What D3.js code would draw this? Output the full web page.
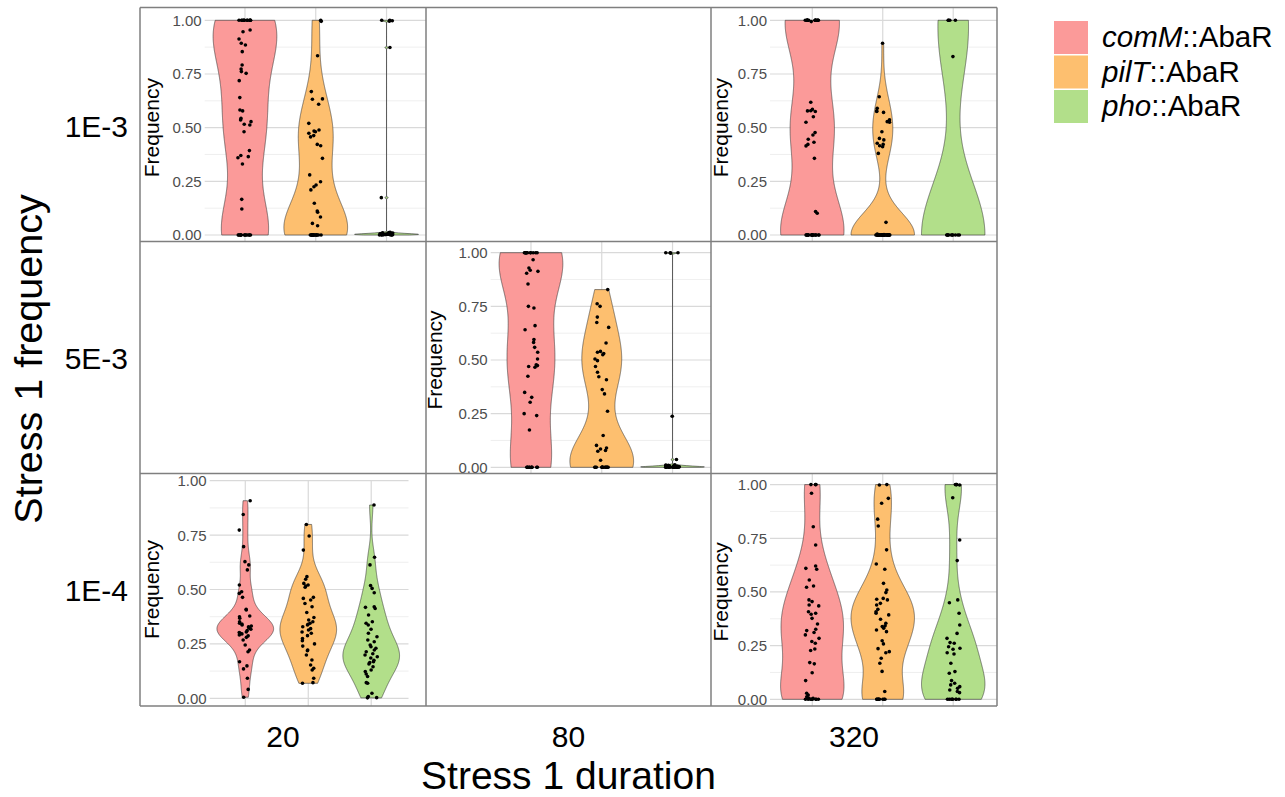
<!DOCTYPE html>
<html>
<head>
<meta charset="utf-8">
<script src="https://cdn.jsdelivr.net/npm/d3@7"></script>
<style>
  body { margin: 0; background: #fff; }
  svg { display: block; }
  text { font-family: "Liberation Sans", Arial, sans-serif; }
</style>
</head>
<body>
<svg id="chart" width="1285" height="797"></svg>
<script>
// categories
const strains = ["comM", "pilT", "pho"];
const strainColors = ["#FB9A99", "#FDBF6F", "#B2DF8A"];
const frequencies = ["1E-3", "5E-3", "1E-4"];
const durations = ["20", "80", "320"];
const majorTicks = [0, 0.25, 0.5, 0.75, 1];
const minorTicks = [0.125, 0.375, 0.625, 0.875];

// frequency values, one array per strain and condition
const f1e3_d20_comM = [1, 1, 1, 1, 1, 1, 1, 1, 1, 1, 1, 1, 0.955, 0.947, 0.913, 0.893, 0.885, 0.854, 0.792, 0.773, 0.761, 0.753, 0.719, 0.640, 0.582, 0.578, 0.543, 0.536, 0.528, 0.516, 0.512, 0.481, 0.393, 0.370, 0.365, 0.360, 0.331, 0.166, 0.121, 0, 0, 0, 0, 0, 0, 0, 0, 0, 0, 0, 0, 0];
const f1e3_d20_pilT = [1, 0.995, 0.835, 0.668, 0.634, 0.632, 0.609, 0.520, 0.489, 0.484, 0.481, 0.474, 0.463, 0.457, 0.422, 0.416, 0.357, 0.280, 0.248, 0.233, 0.225, 0.210, 0.148, 0.112, 0.106, 0.084, 0.054, 0.043, 0, 0, 0, 0, 0, 0, 0, 0, 0, 0, 0, 0, 0, 0, 0, 0];
const f1e3_d20_pho = [1, 1, 0.998, 0.996, 0.873, 0.174, 0, 0, 0, 0, 0.001, 0.001, 0.001, 0.002, 0.002, 0.002, 0.002, 0.003, 0.003, 0.003, 0.003, 0.004, 0.004, 0.004, 0.005, 0.005, 0.005, 0.006, 0.006, 0.007, 0.007, 0.008, 0.009, 0.010, 0.011, 0.012];

const f1e3_d320_comM = [1, 1, 1, 1, 1, 1, 1, 1, 1, 1, 1, 1, 1, 1, 1, 0.994, 0.618, 0.585, 0.579, 0.578, 0.575, 0.551, 0.525, 0.477, 0.466, 0.446, 0.432, 0.422, 0.415, 0.357, 0.109, 0.101, 0, 0, 0, 0, 0, 0, 0, 0, 0, 0, 0, 0, 0, 0, 0, 0, 0];
const f1e3_d320_pilT = [0.893, 0.644, 0.590, 0.578, 0.575, 0.571, 0.536, 0.528, 0.525, 0.481, 0.450, 0.443, 0.427, 0.422, 0.416, 0.411, 0.380, 0.059, 0.004, 0.002, 0, 0, 0, 0, 0, 0, 0, 0, 0, 0, 0, 0, 0, 0, 0, 0, 0, 0, 0, 0, 0, 0, 0, 0, 0, 0, 0, 0, 0, 0, 0, 0, 0, 0, 0, 0];
const f1e3_d320_pho = [1, 1, 1, 1, 0.831, 0, 0, 0, 0, 0, 0, 0, 0, 0, 0];

const f5e3_d80_comM = [1, 1, 1, 1, 1, 1, 1, 1, 1, 1, 1, 1, 0.967, 0.929, 0.918, 0.913, 0.904, 0.854, 0.750, 0.742, 0.660, 0.641, 0.595, 0.582, 0.559, 0.536, 0.505, 0.478, 0.474, 0.470, 0.466, 0.424, 0.349, 0.326, 0.303, 0.250, 0.241, 0.174, 0, 0, 0, 0, 0, 0, 0, 0, 0, 0];
const f5e3_d80_pilT = [0.828, 0.762, 0.750, 0.700, 0.675, 0.652, 0.579, 0.540, 0.536, 0.530, 0.525, 0.505, 0.497, 0.470, 0.443, 0.422, 0.408, 0.362, 0.342, 0.261, 0.148, 0.102, 0.090, 0.085, 0.078, 0.075, 0.033, 0, 0, 0, 0, 0, 0, 0, 0, 0, 0, 0, 0, 0, 0];
const f5e3_d80_pho = [1, 1, 1, 0.998, 0.238, 0.036, 0.012, 0.010, 0.009, 0.008, 0.007, 0.006, 0.006, 0.005, 0.005, 0.004, 0.004, 0.003, 0.003, 0.003, 0.002, 0.002, 0.002, 0.001, 0.001, 0.001, 0, 0, 0, 0, 0, 0, 0, 0, 0, 0];

const f1e4_d20_comM = [0.908, 0.845, 0.773, 0.697, 0.628, 0.613, 0.590, 0.521, 0.490, 0.482, 0.464, 0.409, 0.406, 0.378, 0.375, 0.368, 0.352, 0.345, 0.341, 0.337, 0.332, 0.329, 0.325, 0.322, 0.317, 0.311, 0.305, 0.302, 0.299, 0.296, 0.291, 0.287, 0.280, 0.268, 0.245, 0.222, 0.214, 0.168, 0.149, 0.135, 0.092, 0.041, 0.005];
const f1e4_d20_pilT = [0.799, 0.746, 0.681, 0.559, 0.547, 0.528, 0.521, 0.516, 0.510, 0.464, 0.459, 0.452, 0.436, 0.421, 0.394, 0.371, 0.360, 0.352, 0.345, 0.340, 0.337, 0.329, 0.320, 0.314, 0.305, 0.299, 0.288, 0.275, 0.265, 0.250, 0.240, 0.222, 0.219, 0.199, 0.176, 0.153, 0.138, 0.130, 0.092, 0.072, 0.069];
const f1e4_d20_pho = [0.888, 0.648, 0.613, 0.518, 0.505, 0.485, 0.421, 0.418, 0.413, 0.383, 0.352, 0.345, 0.337, 0.317, 0.299, 0.283, 0.268, 0.260, 0.245, 0.237, 0.230, 0.222, 0.214, 0.205, 0.199, 0.191, 0.185, 0.175, 0.168, 0.164, 0.158, 0.145, 0.130, 0.123, 0.112, 0.100, 0.072, 0.069, 0.023, 0.008, 0.003, 0.002];

const f1e4_d320_comM = [1, 1, 1, 0.960, 0.804, 0.719, 0.621, 0.610, 0.606, 0.556, 0.528, 0.522, 0.463, 0.455, 0.439, 0.435, 0.408, 0.401, 0.396, 0.377, 0.351, 0.326, 0.320, 0.311, 0.300, 0.284, 0.269, 0.261, 0.234, 0.227, 0.171, 0.165, 0.124, 0.087, 0.028, 0.020, 0.012, 0.006, 0.005, 0.003, 0, 0, 0, 0, 0, 0, 0, 0];
const f1e4_d320_pilT = [1, 0.998, 0.936, 0.913, 0.839, 0.807, 0.696, 0.630, 0.606, 0.540, 0.509, 0.497, 0.470, 0.466, 0.463, 0.447, 0.439, 0.419, 0.408, 0.401, 0.393, 0.373, 0.354, 0.342, 0.339, 0.331, 0.323, 0.315, 0.273, 0.258, 0.236, 0.222, 0.217, 0.191, 0.168, 0.130, 0.036, 0, 0, 0, 0, 0, 0, 0, 0, 0];
const f1e4_d320_pho = [1, 1, 1, 0.998, 0.939, 0.742, 0.646, 0.463, 0.450, 0.401, 0.346, 0.307, 0.284, 0.264, 0.261, 0.245, 0.238, 0.233, 0.217, 0.211, 0.168, 0.129, 0.121, 0.087, 0.075, 0.067, 0.059, 0.051, 0.043, 0.036, 0.031, 0, 0, 0, 0, 0, 0, 0, 0];

// which conditions have data (row = frequency, col = duration)
const panels = [
  { row: 0, col: 0, series: [f1e3_d20_comM, f1e3_d20_pilT, f1e3_d20_pho] },
  { row: 0, col: 2, series: [f1e3_d320_comM, f1e3_d320_pilT, f1e3_d320_pho] },
  { row: 1, col: 1, series: [f5e3_d80_comM, f5e3_d80_pilT, f5e3_d80_pho] },
  { row: 2, col: 0, series: [f1e4_d20_comM, f1e4_d20_pilT, f1e4_d20_pho] },
  { row: 2, col: 2, series: [f1e4_d320_comM, f1e4_d320_pilT, f1e4_d320_pho] }
];

// layout of each sub plot (pixel geometry, kept apart from the data)
const cellX = [140, 426, 711, 997];
const cellY = [7.5, 241.5, 473.5, 706];
const panelLayout = {
  "0-0": { xr: [202.5, 429], gridL: 204.7, gridR: 429, gridTop: 7.5, yr: [235, 20.3], labelX: 159 },
  "0-2": { xr: [770, 995.5], gridL: 770, gridR: 997, gridTop: 7.5, yr: [235, 20.3], labelX: 728 },
  "1-1": { xr: [488.5, 715], gridL: 490.7, gridR: 711, gridTop: 241.5, yr: [467.3, 252.7], labelX: 442 },
  "2-0": { xr: [207.5, 409], gridL: 209.7, gridR: 408.5, gridTop: 480, yr: [698.3, 480.7], labelX: 159 },
  "2-2": { xr: [770, 995.5], gridL: 770, gridR: 997, gridTop: 473.5, yr: [699.3, 484.6], labelX: 728 }
};

const svg = d3.select("#chart");

// Silverman's rule as in R's bw.nrd0
function bwNrd0(x) {
  const s = d3.deviation(x);
  const sorted = x.slice().sort(d3.ascending);
  const iqr = d3.quantileSorted(sorted, 0.75) - d3.quantileSorted(sorted, 0.25);
  let lo = Math.min(s, iqr / 1.34);
  if (!lo) lo = s || Math.abs(sorted[0]) || 1;
  return 0.9 * lo * Math.pow(x.length, -0.2);
}

// trimmed gaussian density, scaled to max width (ggplot violin, scale = "width")
function violinDensity(values) {
  const bw = bwNrd0(values);
  const [lo, hi] = d3.extent(values);
  const n = 512;
  const pts = d3.range(n).map(i => {
    const y = lo + (hi - lo) * i / (n - 1);
    let sum = 0;
    for (const v of values) {
      const u = (y - v) / bw;
      sum += Math.exp(-0.5 * u * u);
    }
    return { y, d: sum };
  });
  const mx = d3.max(pts, p => p.d);
  pts.forEach(p => { p.s = p.d / mx; });
  return pts;
}

// fixed horizontal jitter offset in [-0.5, 0.5] for point j of violin i
function jitter(i, j) {
  const h = Math.sin(j * 12.9898 + i * 78.233 + 1.7) * 43758.5453;
  return h - Math.floor(h) - 0.5;
}

const defs = svg.append("defs");

panels.forEach(p => {
  const key = p.row + "-" + p.col;
  const L = panelLayout[key];
  const cx0 = cellX[p.col], cx1 = cellX[p.col + 1];
  const cy0 = cellY[p.row], cy1 = cellY[p.row + 1];

  defs.append("clipPath").attr("id", "clip" + key)
    .append("rect").attr("x", cx0).attr("y", cy0).attr("width", cx1 - cx0).attr("height", cy1 - cy0);

  const g = svg.append("g").attr("clip-path", `url(#clip${key})`);

  const x = d3.scalePoint().domain(strains).range(L.xr).padding(0.6);
  const y = d3.scaleLinear().domain([0, 1]).range(L.yr);
  const step = x.step();

  // grid
  g.selectAll(".minor").data(minorTicks).join("line")
    .attr("x1", L.gridL).attr("x2", L.gridR)
    .attr("y1", d => y(d)).attr("y2", d => y(d))
    .attr("stroke", "#ebebeb").attr("stroke-width", 0.8);
  g.selectAll(".major").data(majorTicks).join("line")
    .attr("x1", L.gridL).attr("x2", L.gridR)
    .attr("y1", d => y(d)).attr("y2", d => y(d))
    .attr("stroke", "#d9d9d9").attr("stroke-width", 1.2);
  g.selectAll(".vgrid").data(strains).join("line")
    .attr("x1", d => x(d)).attr("x2", d => x(d))
    .attr("y1", L.gridTop).attr("y2", cy1)
    .attr("stroke", "#d9d9d9").attr("stroke-width", 1.2);

  // tick labels
  g.selectAll(".tick").data(majorTicks).join("text")
    .attr("x", L.gridL - 3).attr("y", d => y(d)).attr("dy", "0.36em")
    .attr("text-anchor", "end").attr("font-size", 15).attr("fill", "#4d4d4d")
    .text(d => d3.format(".2f")(d));

  g.append("text")
    .attr("transform", `translate(${L.labelX},${(L.yr[0] + L.yr[1]) / 2}) rotate(-90)`)
    .attr("text-anchor", "middle").attr("font-size", 21).attr("fill", "#000")
    .text("Frequency");

  // violins
  p.series.forEach((vals, i) => {
    const cx = x(strains[i]);
    const half = step * 0.45;
    const dens = violinDensity(vals);
    const area = d3.area()
      .y(d => y(d.y))
      .x0(d => cx - half * d.s)
      .x1(d => cx + half * d.s);
    g.append("path").datum(dens)
      .attr("d", area)
      .attr("fill", strainColors[i])
      .attr("stroke", "#333").attr("stroke-width", 0.6);
  });

  // jittered points
  p.series.forEach((vals, i) => {
    const cx = x(strains[i]);
    g.selectAll(null).data(vals).join("circle")
      .attr("cx", (d, j) => cx + jitter(i + p.row * 3 + p.col, j) * 0.2 * step)
      .attr("cy", d => y(d))
      .attr("r", 1.8)
      .attr("fill", "#000");
  });
});

// cell borders
const border = svg.append("g").attr("stroke", "#7f7f7f").attr("stroke-width", 1.5);
cellX.forEach(xv => border.append("line").attr("x1", xv).attr("x2", xv).attr("y1", cellY[0]).attr("y2", cellY[3]));
cellY.forEach(yv => border.append("line").attr("x1", cellX[0]).attr("x2", cellX[3]).attr("y1", yv).attr("y2", yv));

// outer strip labels
const rowLabelY = [137, 369, 601];
svg.selectAll(".rowlab").data(frequencies).join("text")
  .attr("x", 128).attr("y", (d, i) => rowLabelY[i])
  .attr("text-anchor", "end").attr("font-size", 30).attr("fill", "#000")
  .text(d => d);

svg.selectAll(".collab").data(durations).join("text")
  .attr("x", (d, i) => (cellX[i] + cellX[i + 1]) / 2).attr("y", 747)
  .attr("text-anchor", "middle").attr("font-size", 30).attr("fill", "#000")
  .text(d => d);

svg.append("text")
  .attr("x", (cellX[0] + cellX[3]) / 2).attr("y", 789)
  .attr("text-anchor", "middle").attr("font-size", 39).attr("fill", "#000")
  .text("Stress 1 duration");

svg.append("text")
  .attr("transform", `translate(42,359) rotate(-90)`)
  .attr("text-anchor", "middle").attr("font-size", 39.5).attr("fill", "#000")
  .text("Stress 1 frequency");

// legend
const legend = svg.append("g");
strains.forEach((s, i) => {
  const ky = 21 + i * 34.5;
  legend.append("rect").attr("x", 1054).attr("y", ky).attr("width", 34).attr("height", 33)
    .attr("fill", strainColors[i]);
  const t = legend.append("text").attr("x", 1102).attr("y", ky + 26)
    .attr("font-size", 29.5).attr("fill", "#000");
  t.append("tspan").attr("font-style", "italic").text(s);
  t.append("tspan").text("::AbaR");
});
</script>
</body>
</html>
